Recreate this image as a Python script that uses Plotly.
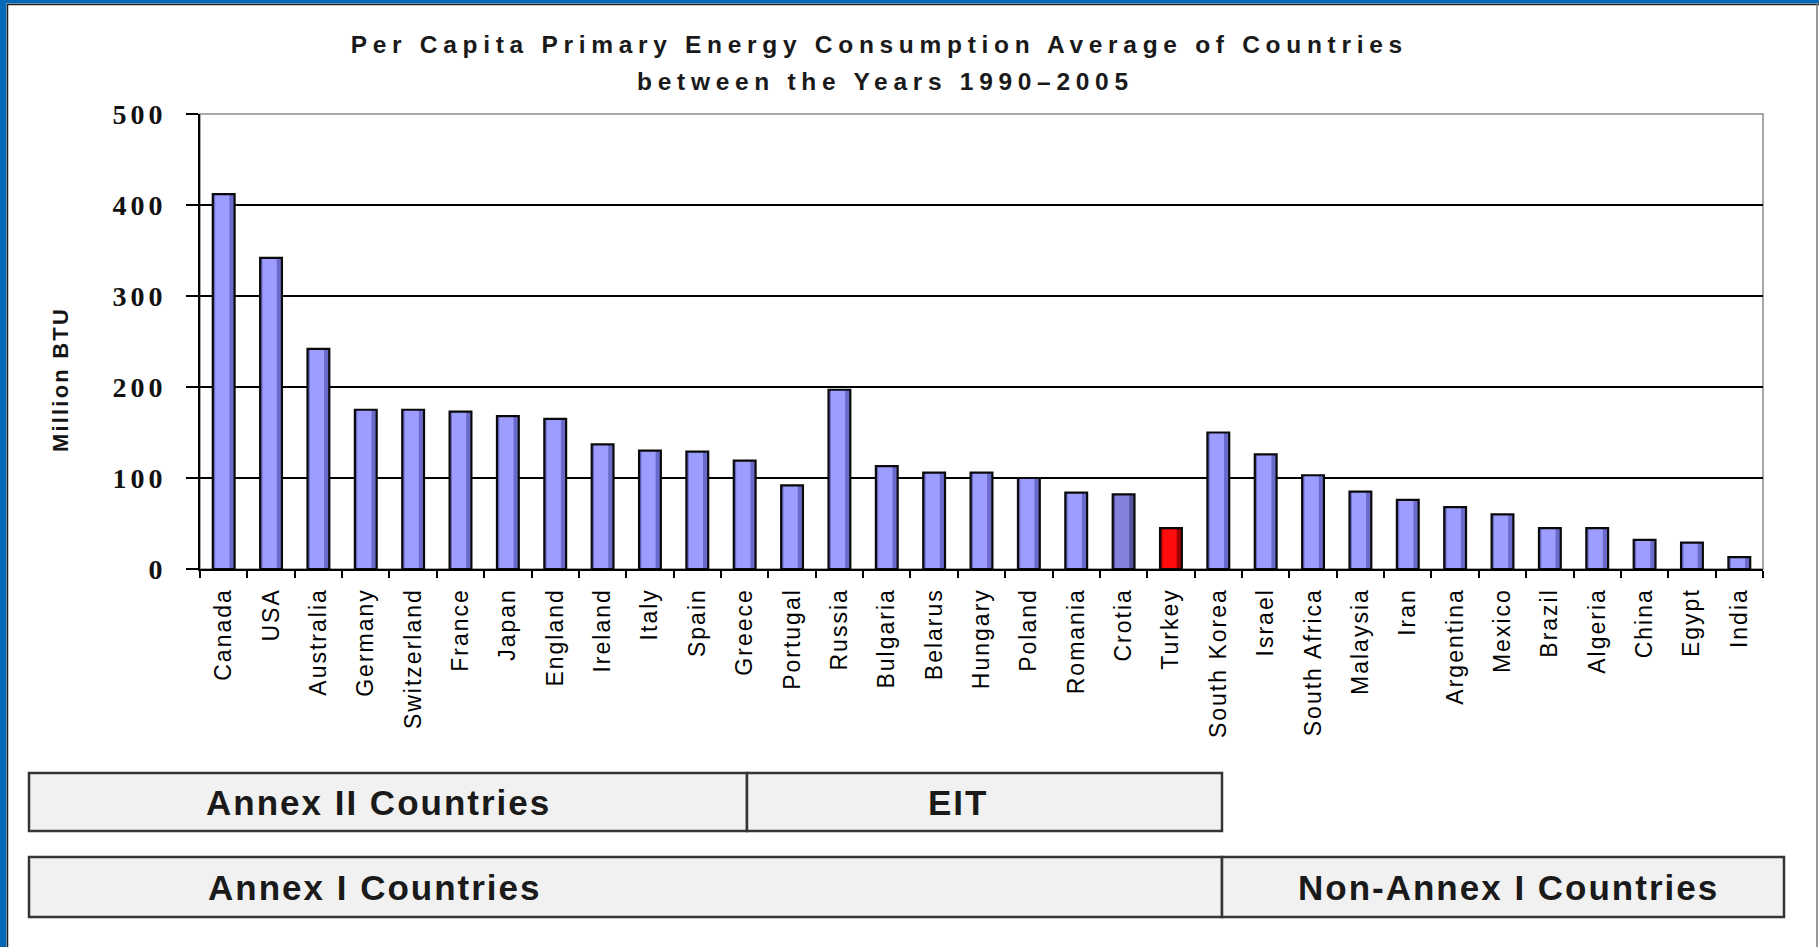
import plotly.graph_objects as go

# ---------------- data ----------------
countries = ["Canada", "USA", "Australia", "Germany", "Switzerland", "France", "Japan",
             "England", "Ireland", "Italy", "Spain", "Greece", "Portugal", "Russia",
             "Bulgaria", "Belarus", "Hungary", "Poland", "Romania", "Crotia", "Turkey",
             "South Korea", "Israel", "South Africa", "Malaysia", "Iran", "Argentina",
             "Mexico", "Brazil", "Algeria", "China", "Egypt", "India"]
consumption = [412, 342, 242, 175, 175, 173, 168, 165, 137, 130, 129, 119, 92, 197,
               113, 106, 106, 100, 84, 82, 45, 150, 126, 103, 85, 76, 68, 60, 45, 45,
               32, 29, 13]
y_tick_values = [0, 100, 200, 300, 400, 500]
y_tick_labels = ["0", "100", "200", "300", "400", "500"]
title_line1 = "Per Capita Primary Energy Consumption Average of Countries"
title_line2 = "between the Years 1990\u20132005"
y_title = "Million BTU"
group_labels = ["Annex II Countries", "EIT", "Annex I Countries", "Non-Annex I Countries"]

# ---------------- layout geometry (pixels) ----------------
W, H = 1819, 947
L, R, T, B = 200, 1763, 114, 569


def px(x):
    return (x - L) / (R - L)


def py(y):
    return (B - y) / (B - T)


def outer_color(c):
    if c == "Turkey":
        return "#a00000"
    if c == "Crotia":
        return "#55559f"
    return "#6a6acb"


def inner_color(c):
    if c == "Turkey":
        return "#ff0d0d"
    if c == "Crotia":
        return "#8282da"
    return "#9d9dff"


fig = go.Figure()
fig.add_trace(go.Bar(x=countries, y=consumption, width=0.46,
                     marker=dict(color=[outer_color(c) for c in countries], line=dict(width=0)),
                     hoverinfo="skip", showlegend=False))
fig.add_trace(go.Bar(x=countries, y=consumption, width=0.30, offset=-0.18,
                     marker=dict(color=[inner_color(c) for c in countries], line=dict(width=0)),
                     hoverinfo="skip", showlegend=False))
fig.add_trace(go.Bar(x=countries, y=consumption, width=0.46,
                     marker=dict(color="rgba(0,0,0,0)", line=dict(color="#0a0a0a", width=2.2)),
                     hovertemplate="%{x}: %{y}<extra></extra>", showlegend=False))

shapes = []
# blue frame
shapes.append(dict(type="rect", xref="paper", yref="paper", x0=px(0), x1=px(6.5), y0=py(0), y1=py(H),
                   fillcolor="#0868b8", line=dict(width=0), layer="below"))
shapes.append(dict(type="rect", xref="paper", yref="paper", x0=px(0), x1=px(W), y0=py(0), y1=py(3.5),
                   fillcolor="#0868b8", line=dict(width=0), layer="below"))
shapes.append(dict(type="line", xref="paper", yref="paper", x0=px(7.5), x1=px(7.5), y0=py(4), y1=py(H),
                   line=dict(color="#222222", width=1.5)))
shapes.append(dict(type="line", xref="paper", yref="paper", x0=px(7), x1=px(W), y0=py(4.5), y1=py(4.5),
                   line=dict(color="#222222", width=1.5)))
shapes.append(dict(type="line", xref="paper", yref="paper", x0=px(1817), x1=px(1817), y0=py(4), y1=py(H),
                   line=dict(color="#777777", width=1.5)))
# plot area border (gray top/right)
shapes.append(dict(type="rect", xref="paper", yref="paper", x0=0, x1=1, y0=0, y1=1,
                   line=dict(color="#8a8a8a", width=1.5), layer="below"))

# group boxes
box_fill = "#f1f1f1"
box_line = dict(color="#353535", width=2.5)
boxes = [(29, 747, 773, 831), (747, 1222, 773, 831), (29, 1222, 857, 917), (1222, 1784, 857, 917)]
for (x0, x1, y0, y1) in boxes:
    shapes.append(dict(type="rect", xref="paper", yref="paper", x0=px(x0), x1=px(x1),
                       y0=py(y1), y1=py(y0), fillcolor=box_fill, line=box_line))

annotations = []
title_font = dict(family="Liberation Sans, Arial, sans-serif", size=24.5, color="#1a1a1a", weight="bold")
annotations.append(dict(text=title_line1, x=px(879), y=py(44), xref="paper", yref="paper",
                        xanchor="center", yanchor="middle", showarrow=False, font=title_font))
annotations.append(dict(text=title_line2, x=px(885), y=py(81), xref="paper", yref="paper",
                        xanchor="center", yanchor="middle", showarrow=False, font=title_font))
annotations.append(dict(text=y_title, x=px(61), y=py(380), xref="paper", yref="paper",
                        xanchor="center", yanchor="middle", showarrow=False, textangle=-90,
                        font=dict(family="Liberation Sans, Arial, sans-serif", size=22,
                                  color="#151515", weight="bold")))
box_font = dict(family="Liberation Sans, Arial, sans-serif", size=35, color="#1a1a1a", weight="bold")
label_pos = [(378, 802), (958, 802), (374, 887), (1508, 887)]
for lab, (x, y) in zip(group_labels, label_pos):
    annotations.append(dict(text=lab, x=px(x), y=py(y), xref="paper", yref="paper",
                            xanchor="center", yanchor="middle", showarrow=False, font=box_font))

fig.update_layout(
    width=W, height=H,
    margin=dict(l=L, r=W - R, t=T, b=H - B, pad=0),
    paper_bgcolor="white", plot_bgcolor="white",
    barmode="overlay",
    shapes=shapes, annotations=annotations,
    xaxis=dict(type="category", tickangle=-90, showgrid=False, zeroline=False,
               showline=True, linecolor="#000000", linewidth=2,
               ticks="outside", ticklen=7, tickwidth=2, tickcolor="#000000",
               tickson="boundaries", ticklabelstandoff=8,
               tickfont=dict(family="Liberation Sans, Arial, sans-serif", size=23, color="#000000"),
               range=[-0.5, len(countries) - 0.5], fixedrange=True),
    yaxis=dict(range=[0, 500], tickvals=y_tick_values, ticktext=y_tick_labels,
               showgrid=True, gridcolor="#000000", gridwidth=1.6, zeroline=False,
               showline=True, linecolor="#000000", linewidth=2,
               ticks="outside", ticklen=12, tickwidth=2, tickcolor="#000000",
               ticklabelstandoff=14,
               tickfont=dict(family="Liberation Serif, Times New Roman, serif", size=28,
                             color="#111111", weight="bold"),
               fixedrange=True),
)

post = """
document.body.style.margin='0';
var gd=document.getElementById('{plot_id}');
function sp(sel,v){gd.querySelectorAll(sel).forEach(function(e){e.style.letterSpacing=v;});}
sp('.xtick text','2px');
sp('.ytick text','4px');
sp('.annotation[data-index="0"] text','5.7px');
sp('.annotation[data-index="1"] text','5.7px');
sp('.annotation[data-index="2"] text','2.2px');
sp('.annotation[data-index="3"] text','2px');
sp('.annotation[data-index="4"] text','2px');
sp('.annotation[data-index="5"] text','2px');
sp('.annotation[data-index="6"] text','2px');
"""

fig.write_html("out.html", config={"displayModeBar": False}, post_script=post)
